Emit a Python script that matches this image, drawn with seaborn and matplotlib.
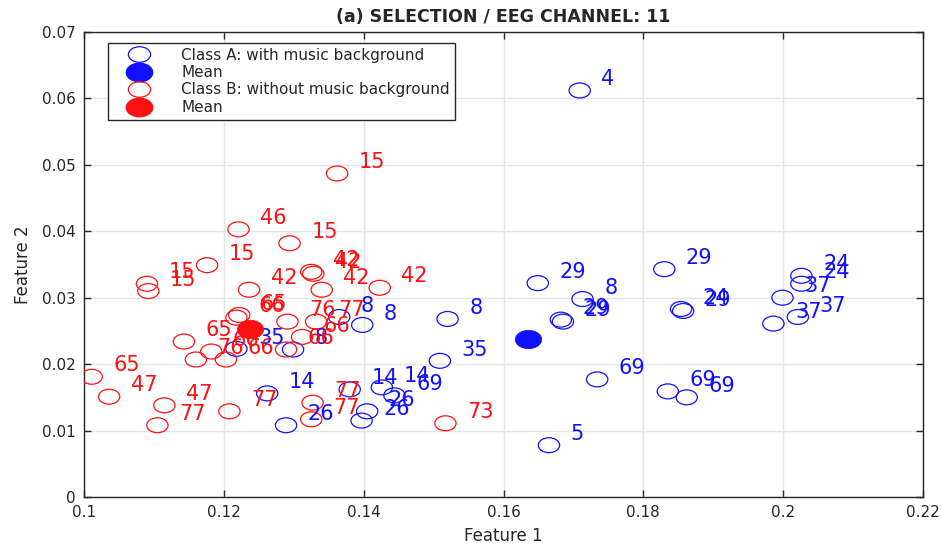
import numpy as np
import pandas as pd
import matplotlib
matplotlib.use("Agg")
import matplotlib.pyplot as plt
import seaborn as sns
from matplotlib.path import Path
from matplotlib.lines import Line2D

# ---- data ----
a_x = [0.1709, 0.1665, 0.1649, 0.1713, 0.1682, 0.1685, 0.1830, 0.1854, 0.1857,
       0.2026, 0.2026, 0.1999, 0.2021, 0.1986, 0.1734, 0.1835, 0.1862, 0.1520,
       0.1509, 0.1398, 0.1365, 0.1218, 0.1299, 0.1262, 0.1289, 0.1380, 0.1426,
       0.1444, 0.1405, 0.1397]
a_y = [0.0612, 0.0078, 0.0322, 0.0298, 0.0267, 0.0264, 0.0343, 0.0283, 0.0280,
       0.0333, 0.0321, 0.0300, 0.0271, 0.0261, 0.0177, 0.0159, 0.0150, 0.0268,
       0.0205, 0.0259, 0.0271, 0.0223, 0.0222, 0.0156, 0.0108, 0.0162, 0.0165,
       0.0153, 0.0129, 0.0115]
a_lab = ["4", "5", "29", "8", "29", "29", "29", "24", "29",
         "24", "24", "37", "37", "37", "69", "69", "69", "8",
         "35", "8", "8", "35", "8", "14", "26", "14", "14",
         "69", "26", "26"]

b_x = [0.1362, 0.1221, 0.1294, 0.1176, 0.1090, 0.1092, 0.1236, 0.1325, 0.1328,
       0.1340, 0.1423, 0.1222, 0.1218, 0.1143, 0.1291, 0.1332, 0.1312, 0.1289,
       0.1160, 0.1182, 0.1203, 0.1011, 0.1036, 0.1115, 0.1105, 0.1208, 0.1327,
       0.1325, 0.1517]
b_y = [0.0487, 0.0403, 0.0382, 0.0349, 0.0321, 0.0310, 0.0312, 0.0339, 0.0336,
       0.0312, 0.0315, 0.0274, 0.0270, 0.0234, 0.0264, 0.0264, 0.0241, 0.0222,
       0.0207, 0.0219, 0.0207, 0.0181, 0.0151, 0.0138, 0.0108, 0.0129, 0.0142,
       0.0117, 0.0111]
b_lab = ["15", "46", "15", "15", "15", "15", "42", "42", "42",
         "42", "42", "65", "66", "65", "76", "77", "66", "66",
         "76", "66", "66", "65", "47", "47", "77", "77", "77",
         "77", "73"]

x_ticks = [0.1, 0.12, 0.14, 0.16, 0.18, 0.2, 0.22]
x_ticklabels = ["0.1", "0.12", "0.14", "0.16", "0.18", "0.2", "0.22"]
y_ticks = [0, 0.01, 0.02, 0.03, 0.04, 0.05, 0.06, 0.07]
y_ticklabels = ["0", "0.01", "0.02", "0.03", "0.04", "0.05", "0.06", "0.07"]

legend_labels = ["Class A: with music background", "Mean",
                 "Class B: without music background", "Mean"]
title = "(a) SELECTION / EEG CHANNEL: 11"

# ---- style ----
sns.set_style("whitegrid")
plt.rcParams['font.family'] = ['DejaVu Sans']

BLUE = "#1010ff"
RED = "#ff1010"

fig = plt.figure(figsize=(9.41, 5.46), dpi=100)
ax = fig.add_axes([84 / 941, 49 / 546, 839 / 941, 465 / 546])

circ = Path.unit_circle()
ell = Path(circ.vertices * np.array([1.0, 0.70]), circ.codes)

dfA = pd.DataFrame({"Feature 1": a_x, "Feature 2": a_y, "label": a_lab})
dfB = pd.DataFrame({"Feature 1": b_x, "Feature 2": b_y, "label": b_lab})

for df, col in [(dfA, BLUE), (dfB, RED)]:
    sns.scatterplot(data=df, x="Feature 1", y="Feature 2", ax=ax, marker=ell,
                    s=235, legend=False, zorder=3)
    pts = ax.collections[-1]
    pts.set_facecolor("none")
    pts.set_edgecolor(col)
    pts.set_linewidth(0.9)

dx, dy = 0.0031, 0.0008
for df, col in [(dfA, BLUE), (dfB, RED)]:
    for xv, yv, lab in zip(df["Feature 1"], df["Feature 2"], df["label"]):
        ax.text(xv + dx, yv + dy, lab, color=col, fontsize=15,
                ha="left", va="baseline", zorder=4)

for df, col in [(dfA, BLUE), (dfB, RED)]:
    mdf = pd.DataFrame({"Feature 1": [df["Feature 1"].mean()],
                        "Feature 2": [df["Feature 2"].mean()]})
    sns.scatterplot(data=mdf, x="Feature 1", y="Feature 2", ax=ax, marker=ell,
                    s=360, color=col, edgecolor=col, linewidth=0.5,
                    legend=False, zorder=5)

ax.set_xlim(0.1, 0.22)
ax.set_ylim(0, 0.07)
ax.set_xticks(x_ticks)
ax.set_xticklabels(x_ticklabels)
ax.set_yticks(y_ticks)
ax.set_yticklabels(y_ticklabels)
ax.tick_params(axis="both", which="major", direction="in", length=5, width=1,
               color="#262626", labelsize=11, labelcolor="#262626",
               bottom=True, left=True, top=True, right=True, pad=6)
ax.grid(True, color="#e4e4e4", linewidth=1.0)
for sp in ax.spines.values():
    sp.set_color("#262626")
    sp.set_linewidth(1.0)

ax.set_xlabel("Feature 1", fontsize=12, color="#262626", labelpad=5)
ax.set_ylabel("Feature 2", fontsize=12, color="#262626", labelpad=7)
ax.set_title(title, fontsize=12.5, fontweight="bold", color="#262626", pad=7)

handles = [
    Line2D([], [], ls="none", marker=ell, markersize=16, markerfacecolor="none",
           markeredgecolor=BLUE, markeredgewidth=0.9),
    Line2D([], [], ls="none", marker=ell, markersize=19, markerfacecolor=BLUE,
           markeredgecolor=BLUE),
    Line2D([], [], ls="none", marker=ell, markersize=16, markerfacecolor="none",
           markeredgecolor=RED, markeredgewidth=0.9),
    Line2D([], [], ls="none", marker=ell, markersize=19, markerfacecolor=RED,
           markeredgecolor=RED),
]
leg = ax.legend(handles, legend_labels, loc="upper left",
                bbox_to_anchor=((108 - 84) / 839, (497 - 43) / 465),
                borderaxespad=0, fontsize=11, frameon=True, fancybox=False,
                edgecolor="#262626", framealpha=1, handlelength=3.5,
                handletextpad=1.0, labelspacing=0.16, borderpad=0.3)
leg.get_frame().set_linewidth(1.0)
for t in leg.get_texts():
    t.set_color("#262626")

fig.savefig("out.png", dpi=100)
